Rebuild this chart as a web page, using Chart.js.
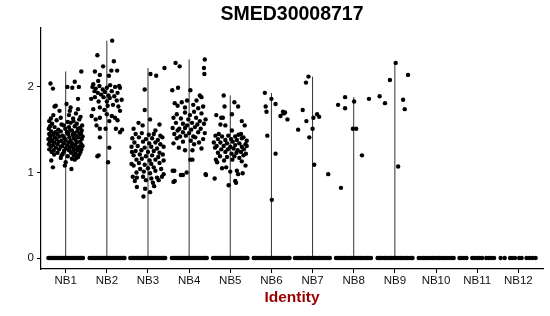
<!DOCTYPE html>
<html>
<head>
<meta charset="utf-8">
<script src="https://cdn.jsdelivr.net/npm/chart.js@4"></script>
<style>
  html, body { margin: 0; padding: 0; background: #fff; }
  #wrap { width: 550px; height: 316px; }
</style>
</head>
<body>
<div id="wrap"><canvas id="vln" width="550" height="316"></canvas></div>
<script>
// cluster names on the x axis
const categories = ['NB1', 'NB2', 'NB3', 'NB4', 'NB5', 'NB6', 'NB7', 'NB8', 'NB9', 'NB10', 'NB11', 'NB12'];
const yTicks = [0, 1, 2];
const yRange = [-0.128, 2.688];

// non-zero expression per cell: [jitter offset within the cluster, expression]
const nb1 = [
  [-0.37,2.04],[-0.31,1.98],[0.04,2.00],[0.16,1.99],[0.22,2.06],[0.32,2.00],[0.38,2.18],[0.30,1.86],[-0.24,1.78],[0.02,1.80],
  [0.12,1.76],[0.30,1.74],[-0.15,1.72],[0.10,1.72],[-0.27,1.77],[0.08,1.67],[0.25,1.69],[-0.30,1.67],[0.36,1.65],[0.18,1.63],
  [-0.12,1.64],[-0.36,1.63],
  [-0.40,1.60],[-0.22,1.61],[0.05,1.59],[0.19,1.60],[0.33,1.62],
  [-0.33,1.57],[-0.10,1.56],[0.12,1.58],[0.27,1.57],[0.40,1.55],
  [-0.38,1.54],[-0.27,1.53],[-0.05,1.55],[0.08,1.53],[0.22,1.54],[0.35,1.52],
  [-0.41,1.51],[-0.18,1.50],[-0.01,1.51],[0.15,1.49],[0.30,1.51],[0.39,1.49],
  [-0.35,1.48],[-0.25,1.47],[-0.12,1.48],[0.03,1.47],[0.10,1.49],[0.20,1.46],[0.28,1.48],[0.37,1.46],
  [-0.40,1.45],[-0.30,1.44],[-0.20,1.45],[-0.07,1.43],[0.06,1.45],[0.17,1.44],[0.25,1.43],[0.34,1.45],[0.41,1.42],
  [-0.37,1.42],[-0.26,1.41],[-0.15,1.42],[-0.03,1.40],[0.09,1.41],[0.20,1.40],[0.31,1.41],[0.39,1.39],
  [-0.42,1.39],[-0.33,1.38],[-0.22,1.39],[-0.10,1.37],[0.00,1.38],[0.12,1.37],[0.24,1.38],[0.35,1.36],
  [-0.38,1.36],[-0.28,1.35],[-0.17,1.36],[-0.05,1.34],[0.07,1.35],[0.16,1.34],[0.27,1.35],[0.38,1.33],
  [-0.41,1.33],[-0.31,1.32],[-0.20,1.33],[-0.08,1.31],[0.04,1.32],[0.14,1.31],[0.23,1.32],[0.33,1.30],[0.41,1.31],
  [-0.36,1.30],[-0.24,1.29],[-0.12,1.30],[0.00,1.28],[0.10,1.29],[0.20,1.28],[0.30,1.29],[0.38,1.27],
  [-0.40,1.27],[-0.29,1.26],[-0.16,1.27],[-0.04,1.25],[0.08,1.26],[0.18,1.25],[0.28,1.26],[0.36,1.24],
  [-0.34,1.24],[-0.20,1.23],[-0.07,1.22],[0.13,1.23],[0.24,1.22],[0.33,1.21],
  [-0.28,1.21],[-0.10,1.20],[0.05,1.19],[0.20,1.20],[0.30,1.18],
  [-0.12,1.17],[0.15,1.16],[0.26,1.17],
  [-0.35,1.14],[-0.31,1.06],[0.00,1.12],[0.14,1.04],[0.22,1.15],[-0.02,1.08]
];
const nb2 = [
  [0.13,2.54],[-0.23,2.37],[-0.09,2.24],[0.17,2.30],[-0.29,2.18],[-0.17,2.14],[0.11,2.19],[0.25,2.19],[0.05,2.13],[-0.21,2.07],
  [0.30,2.01],[-0.33,2.03],
  [-0.35,2.00],[-0.27,1.98],[-0.18,2.01],[-0.10,1.97],[0.00,1.99],[0.08,2.02],[0.20,2.00],[0.32,1.99],
  [-0.30,1.95],[-0.22,1.93],[-0.05,1.94],[0.12,1.95],[0.26,1.93],[-0.14,1.91],[0.04,1.90],
  [-0.29,1.88],[-0.08,1.88],[0.07,1.87],[0.18,1.89],[-0.38,1.86],[0.24,1.84],[0.36,1.85],[-0.20,1.83],[0.00,1.83],
  [0.28,1.77],[0.15,1.79],[0.02,1.78],[-0.17,1.76],[-0.33,1.74],[-0.06,1.73],[0.32,1.72],
  [-0.17,1.64],[-0.37,1.66],[0.00,1.68],[0.12,1.66],[0.20,1.64],[-0.27,1.62],[0.26,1.61],[0.06,1.60],
  [-0.17,1.51],[-0.03,1.51],[0.22,1.51],[0.32,1.47],[0.37,1.50],[-0.25,1.55],
  [-0.17,1.41],[0.06,1.29],[-0.20,1.20],[-0.23,1.19],[0.03,1.12]
];
const nb3 = [
  [0.40,2.22],[0.06,2.15],[0.20,2.13],[-0.08,1.97],[-0.08,1.73],[-0.23,1.58],[-0.35,1.51],[0.18,1.49],[0.05,1.62],[-0.13,1.55],[0.28,1.56],
  [-0.30,1.45],[-0.15,1.46],[0.02,1.44],[0.14,1.45],[0.30,1.43],
  [-0.38,1.40],[-0.22,1.41],[-0.05,1.39],[0.10,1.40],[0.24,1.38],[0.35,1.41],
  [-0.33,1.35],[-0.12,1.36],[0.03,1.34],[0.18,1.35],[0.30,1.33],
  [-0.40,1.30],[-0.25,1.31],[-0.08,1.29],[0.08,1.30],[0.22,1.28],[0.38,1.30],
  [-0.30,1.25],[-0.16,1.26],[0.00,1.24],[0.14,1.25],[0.28,1.23],[-0.39,1.24],
  [-0.35,1.20],[-0.20,1.21],[-0.05,1.19],[0.10,1.20],[0.25,1.18],[0.36,1.21],
  [-0.28,1.15],[-0.15,1.16],[0.04,1.14],[0.18,1.15],[0.38,1.14],
  [-0.40,1.10],[-0.22,1.11],[-0.08,1.09],[0.08,1.10],[0.28,1.11],
  [-0.35,1.08],[-0.19,1.04],[0.00,1.05],[0.14,1.06],[0.32,1.04],
  [-0.28,1.00],[-0.10,1.01],[0.18,1.02],[0.05,0.99],[0.38,0.98],
  [-0.37,0.95],[-0.27,0.94],[-0.12,0.95],[0.08,0.93],[0.22,0.94],[0.34,0.95],
  [-0.32,0.90],[-0.05,0.91],[0.26,0.91],[0.12,0.88],
  [-0.27,0.83],[-0.07,0.81],[0.15,0.84],
  [-0.11,0.72],[0.05,0.77]
];
const nb4 = [
  [-0.33,2.28],[-0.23,2.24],[0.38,2.32],[0.36,2.22],[0.37,2.15],[-0.41,1.96],[-0.27,1.99],[0.03,1.96],[0.26,1.90],[0.30,1.88],
  [0.18,1.84],[-0.05,1.84],[-0.18,1.82],[-0.35,1.81],
  [-0.28,1.78],[0.10,1.79],[0.34,1.77],[-0.10,1.76],[0.22,1.75],
  [-0.10,1.70],[0.12,1.71],[0.30,1.69],[-0.30,1.68],[0.02,1.67],[0.40,1.62],
  [-0.38,1.64],[-0.20,1.63],[-0.02,1.62],[0.17,1.64],[0.26,1.60],
  [-0.32,1.58],[-0.15,1.57],[0.07,1.58],[0.20,1.56],[0.36,1.57],[-0.05,1.55],
  [-0.40,1.52],[-0.24,1.51],[-0.10,1.52],[0.05,1.50],[0.14,1.53],[0.28,1.51],
  [-0.28,1.49],[-0.15,1.47],[0.00,1.46],[0.22,1.47],[0.38,1.46],[-0.36,1.45],
  [-0.22,1.42],[-0.08,1.43],[0.10,1.42],[0.15,1.41],[0.34,1.39],[-0.30,1.40],
  [-0.15,1.36],[0.04,1.37],[0.24,1.35],[-0.38,1.34],[0.12,1.33],
  [-0.10,1.26],[0.08,1.26],[-0.25,1.29],[0.30,1.28],
  [0.08,1.15],[0.03,1.15],[-0.36,1.02],[-0.40,1.02],[-0.15,0.97],[-0.06,1.00],[0.40,0.98],[-0.35,0.90],[-0.38,0.89],[0.41,0.97],[-0.20,0.97]
];
const nb5 = [
  [-0.16,1.90],[0.10,1.82],[0.19,1.77],[-0.14,1.77],[-0.34,1.67],[-0.22,1.64],[-0.18,1.64],[0.04,1.68],[0.28,1.60],[-0.24,1.56],
  [-0.12,1.55],[0.04,1.49],[0.26,1.45],[-0.28,1.45],[0.35,1.55],
  [-0.36,1.43],[-0.20,1.42],[-0.05,1.43],[0.12,1.42],[0.20,1.44],[0.32,1.41],
  [-0.30,1.39],[-0.12,1.38],[0.02,1.39],[0.16,1.38],[0.28,1.40],[0.40,1.37],
  [-0.40,1.35],[-0.24,1.35],[-0.08,1.34],[0.06,1.36],[0.22,1.34],[0.37,1.33],
  [-0.33,1.31],[-0.16,1.31],[0.00,1.30],[0.12,1.32],[0.28,1.30],[0.40,1.31],
  [-0.37,1.29],[-0.22,1.27],[-0.06,1.27],[0.08,1.28],[0.18,1.26],[0.33,1.27],
  [-0.30,1.23],[-0.12,1.24],[0.03,1.22],[0.15,1.23],[0.26,1.24],[0.38,1.22],
  [-0.25,1.19],[-0.08,1.18],[0.10,1.19],[0.32,1.20],[0.22,1.17],
  [-0.35,1.15],[-0.15,1.14],[0.05,1.15],[0.28,1.13],
  [-0.32,1.12],[-0.20,1.05],[0.16,1.02],[0.37,1.08],[-0.38,0.93],[0.19,0.98],[-0.04,0.85],[0.12,0.90],[0.14,0.88],[0.30,0.99],
  [-0.10,1.06],[0.00,1.01]
];
const nb6 = [[-0.16,1.93],[-0.14,1.77],[-0.12,1.71],[-0.10,1.43],[0.00,1.86],[0.01,0.68],[0.10,1.80],[0.10,1.22],[0.22,1.66],[0.28,1.71],[0.30,1.69],[0.33,1.70],[0.39,1.62]];
const nb7 = [[-0.35,1.50],[-0.24,1.73],[-0.16,2.05],[-0.10,2.12],[-0.15,1.60],[-0.08,1.41],[0.00,1.51],[0.02,1.64],[0.04,1.09],[0.11,1.68],[0.16,1.65],[0.38,0.98]];
const nb8 = [[-0.38,1.79],[-0.31,0.82],[-0.21,1.88],[-0.21,1.75],[0.01,1.83],[-0.02,1.51],[0.06,1.51],[0.20,1.20],[0.37,1.86]];
const nb9 = [[-0.37,1.89],[-0.24,1.81],[-0.12,2.08],[0.02,2.28],[0.08,1.07],[0.20,1.85],[0.24,1.74],[0.32,2.14]];
const nb10 = [], nb11 = [], nb12 = [];
const expressed = [nb1, nb2, nb3, nb4, nb5, nb6, nb7, nb8, nb9, nb10, nb11, nb12];

// jitter offsets of the cells with zero expression, per cluster
const zeroCells = [
  [-0.42,-0.39,-0.35,-0.31,-0.28,-0.24,-0.20,-0.17,-0.13,-0.09,-0.05,-0.02,0.02,0.06,0.10,0.13,0.17,0.21,0.25,0.28,0.32,0.36,0.39,0.42],
  [-0.42,-0.38,-0.35,-0.31,-0.27,-0.23,-0.20,-0.16,-0.12,-0.08,-0.05,-0.01,0.03,0.07,0.10,0.14,0.18,0.22,0.25,0.29,0.33,0.37,0.40,0.43],
  [-0.43,-0.39,-0.36,-0.32,-0.28,-0.24,-0.21,-0.17,-0.13,-0.09,-0.06,-0.02,0.02,0.05,0.09,0.13,0.17,0.20,0.24,0.28,0.32,0.35,0.39,0.42],
  [-0.42,-0.38,-0.34,-0.31,-0.27,-0.23,-0.19,-0.16,-0.12,-0.08,-0.04,-0.01,0.03,0.07,0.11,0.14,0.18,0.22,0.26,0.29,0.33,0.37,0.40,0.43],
  [-0.42,-0.39,-0.35,-0.31,-0.27,-0.24,-0.20,-0.16,-0.12,-0.09,-0.05,-0.01,0.02,0.06,0.10,0.14,0.17,0.21,0.25,0.29,0.32,0.36,0.40,0.42],
  [-0.43,-0.39,-0.35,-0.30,-0.26,-0.22,-0.18,-0.14,-0.10,-0.05,-0.01,0.03,0.08,0.12,0.16,0.20,0.24,0.29,0.33,0.37,0.41,0.44],
  [-0.43,-0.39,-0.34,-0.30,-0.26,-0.22,-0.17,-0.13,-0.09,-0.05,0.00,0.04,0.08,0.13,0.17,0.21,0.25,0.30,0.34,0.38,0.42],
  [-0.43,-0.39,-0.35,-0.31,-0.26,-0.22,-0.18,-0.14,-0.09,-0.05,-0.01,0.03,0.08,0.12,0.16,0.20,0.25,0.29,0.33,0.37,0.42],
  [-0.42,-0.38,-0.34,-0.29,-0.25,-0.21,-0.16,-0.12,-0.08,-0.03,0.01,0.05,0.10,0.14,0.18,0.23,0.27,0.31,0.36,0.40,0.43],
  [-0.42,-0.36,-0.30,-0.25,-0.20,-0.14,-0.08,-0.03,0.03,0.09,0.15,0.20,0.26,0.32,0.38,0.43],
  [-0.43,-0.38,-0.32,-0.26,-0.12,-0.06,0.00,0.06,0.12,0.22,0.28,0.34,0.41],
  [-0.43,-0.33,-0.20,-0.15,-0.08,0.02,0.08,0.20,0.27,0.34,0.42]
];

const points = [];
categories.forEach((c, i) => {
  zeroCells[i].forEach(dx => points.push({ x: i + 1 + dx, y: 0 }));
  expressed[i].forEach(p => points.push({ x: i + 1 + p[0], y: p[1] }));
});

// the violins are squeezed to a stem from 0 up to the cluster maximum
const stems = [];
expressed.forEach((cells, i) => {
  if (!cells.length) return;
  const top = Math.max(...cells.map(p => p[1]));
  stems.push({
    type: 'line',
    data: [{ x: i + 1, y: 0 }, { x: i + 1, y: top }],
    borderColor: '#333',
    borderWidth: 1,
    pointRadius: 0,
    order: 1
  });
});

const FONT = "'Liberation Sans', Arial, Helvetica, sans-serif";

const titlePlugin = {
  id: 'plotTitle',
  afterDraw(chart) {
    const { ctx, chartArea } = chart;
    ctx.save();
    ctx.font = 'bold 19.5px ' + FONT;
    ctx.fillStyle = '#000';
    ctx.textAlign = 'center';
    ctx.textBaseline = 'middle';
    ctx.fillText('SMED30008717', (chartArea.left + chartArea.right) / 2, 15);
    ctx.restore();
  }
};

new Chart(document.getElementById('vln'), {
  type: 'scatter',
  data: {
    datasets: [
      {
        data: points,
        backgroundColor: '#000',
        borderWidth: 0,
        pointRadius: 2.2,
        order: 0
      },
      ...stems
    ]
  },
  options: {
    responsive: false,
    animation: false,
    events: [],
    layout: { padding: { top: 28, right: 7, left: 0, bottom: 0 } },
    plugins: { legend: { display: false }, tooltip: { enabled: false } },
    scales: {
      x: {
        type: 'linear',
        min: 0.4,
        max: 12.6,
        afterBuildTicks: s => { s.ticks = categories.map((c, i) => ({ value: i + 1 })); },
        afterFit: s => { s.height = 47; },
        ticks: {
          callback: (v, i) => categories[i],
          font: { family: FONT, size: 11.5 },
          color: '#111',
          padding: 1,
          maxRotation: 0,
          autoSkip: false
        },
        grid: { drawOnChartArea: false, drawTicks: true, tickLength: 4, color: '#000', lineWidth: 1 },
        border: { display: true, color: '#000', width: 1.2 },
        title: {
          display: true,
          text: 'Identity',
          color: '#990000',
          font: { family: FONT, size: 15.5, weight: 'bold' },
          padding: { top: 0, bottom: 9 }
        }
      },
      y: {
        min: yRange[0],
        max: yRange[1],
        afterBuildTicks: s => { s.ticks = yTicks.map(v => ({ value: v })); },
        afterFit: s => { s.width = 41; },
        ticks: {
          font: { family: FONT, size: 11.5 },
          color: '#111',
          padding: 3
        },
        grid: { drawOnChartArea: false, drawTicks: true, tickLength: 4, color: '#000', lineWidth: 1 },
        border: { display: true, color: '#000', width: 1.2 }
      }
    }
  },
  plugins: [titlePlugin]
});
</script>
</body>
</html>
